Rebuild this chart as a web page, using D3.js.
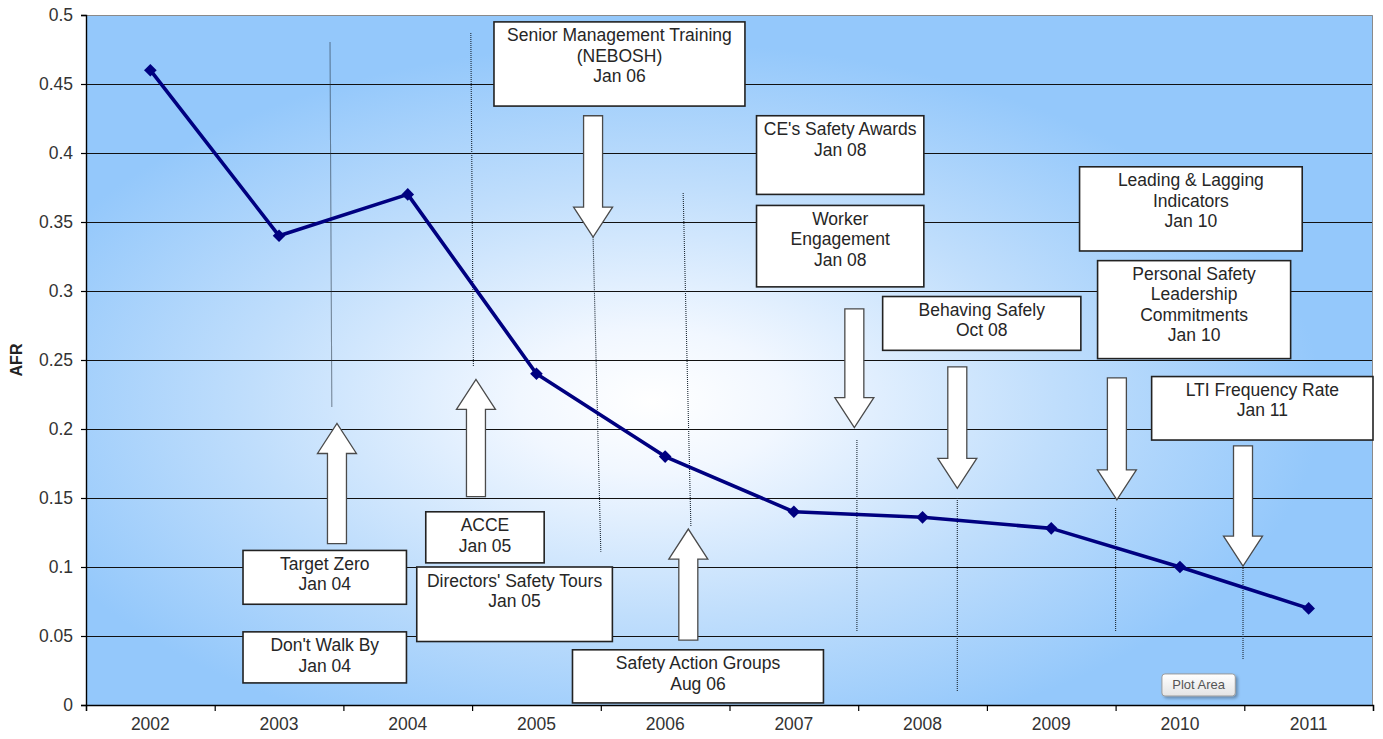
<!DOCTYPE html>
<html lang="en">
<head>
<meta charset="utf-8">
<title>AFR - safety initiatives</title>
<script src="https://d3js.org/d3.v7.min.js"></script>
<style>
  body { margin: 0; background: #fff; }
  #chart svg { display: block; font-family: "Liberation Sans", Arial, sans-serif; }
  .tick text { fill: #333; font-size: 17.5px; }
  .grid line { stroke: #111; stroke-width: 1; shape-rendering: crispEdges; }
  .leader { stroke: #1e2a36; stroke-width: 1.1; stroke-dasharray: 1 1; fill: none; }
  .note rect { fill: #fff; stroke: #222; stroke-width: 1.6; }
  .note text { fill: #262626; font-size: 17.5px; text-anchor: middle; }
  .arrow { fill: #fff; stroke: #4a4a4a; stroke-width: 1.3; }
</style>
</head>
<body>
<div id="chart"></div>
<script>
// --- data ---
var years = [2002, 2003, 2004, 2005, 2006, 2007, 2008, 2009, 2010, 2011];
var afr = [0.46, 0.34, 0.37, 0.24, 0.18, 0.14, 0.136, 0.128, 0.10, 0.07];
var yTicks = [0, 0.05, 0.1, 0.15, 0.2, 0.25, 0.3, 0.35, 0.4, 0.45, 0.5];
var yLabel = "AFR";

// callout boxes, placed in chart units (year, AFR)
var notes = [
  { lines: ["Senior Management Training", "(NEBOSH)", "Jan 06"], x0: 2004.67, x1: 2006.62, top: 0.495, bottom: 0.434 },
  { lines: ["CE's Safety Awards", "Jan 08"], x0: 2006.71, x1: 2008.01, top: 0.427, bottom: 0.370 },
  { lines: ["Worker", "Engagement", "Jan 08"], x0: 2006.71, x1: 2008.01, top: 0.362, bottom: 0.303 },
  { lines: ["Behaving Safely", "Oct 08"], x0: 2007.69, x1: 2009.23, top: 0.296, bottom: 0.257 },
  { lines: ["Leading & Lagging", "Indicators", "Jan 10"], x0: 2009.22, x1: 2010.95, top: 0.390, bottom: 0.329 },
  { lines: ["Personal Safety", "Leadership", "Commitments", "Jan 10"], x0: 2009.36, x1: 2010.86, top: 0.322, bottom: 0.251 },
  { lines: ["LTI Frequency Rate", "Jan 11"], x0: 2009.78, x1: 2011.5, top: 0.238, bottom: 0.192 },
  { lines: ["Target Zero", "Jan 04"], x0: 2002.72, x1: 2003.99, top: 0.112, bottom: 0.073 },
  { lines: ["Don't Walk By", "Jan 04"], x0: 2002.72, x1: 2003.99, top: 0.053, bottom: 0.016 },
  { lines: ["ACCE", "Jan 05"], x0: 2004.14, x1: 2005.06, top: 0.140, bottom: 0.103 },
  { lines: ["Directors' Safety Tours", "Jan 05"], x0: 2004.07, x1: 2005.59, top: 0.100, bottom: 0.046 },
  { lines: ["Safety Action Groups", "Aug 06"], x0: 2005.28, x1: 2007.23, top: 0.040, bottom: 0.0015 }
];

// block arrows: centre (year), tail and tip (AFR)
var arrows = [
  { x: 2003.45, tail: 0.117, tip: 0.204 },
  { x: 2004.53, tail: 0.151, tip: 0.236 },
  { x: 2005.44, tail: 0.427, tip: 0.339 },
  { x: 2006.18, tail: 0.047, tip: 0.1275 },
  { x: 2007.47, tail: 0.287, tip: 0.201 },
  { x: 2008.27, tail: 0.245, tip: 0.157 },
  { x: 2009.51, tail: 0.237, tip: 0.1486 },
  { x: 2010.49, tail: 0.1877, tip: 0.1007 }
];

// dotted drop lines
var leaders = [
  { x0: 2003.396, y0: 0.480, x1: 2003.41, y1: 0.216 },
  { x0: 2004.49, y0: 0.487, x1: 2004.51, y1: 0.245 },
  { x0: 2005.44, y0: 0.339, x1: 2005.50, y1: 0.111 },
  { x0: 2006.14, y0: 0.371, x1: 2006.20, y1: 0.129 },
  { x0: 2007.49, y0: 0.192, x1: 2007.49, y1: 0.053 },
  { x0: 2008.27, y0: 0.150, x1: 2008.27, y1: 0.0094 },
  { x0: 2009.50, y0: 0.1428, x1: 2009.50, y1: 0.053 },
  { x0: 2010.49, y0: 0.0993, x1: 2010.49, y1: 0.0326 }
];

// --- chart ---
var W = 1383, H = 739;
var margin = { top: 15, right: 10, bottom: 34, left: 86 };
var width = W - margin.left - margin.right;
var height = H - margin.top - margin.bottom;

var svg = d3.select("#chart").append("svg")
    .attr("width", W)
    .attr("height", H);

var defs = svg.append("defs");
var grad = defs.append("radialGradient")
    .attr("id", "bg")
    .attr("cx", 0.44).attr("cy", 0.56).attr("r", 0.52)
    .attr("fx", 0.44).attr("fy", 0.56);
grad.append("stop").attr("offset", "0%").attr("stop-color", "#ffffff");
grad.append("stop").attr("offset", "20%").attr("stop-color", "#f1f7ff");
grad.append("stop").attr("offset", "60%").attr("stop-color", "#c0defc");
grad.append("stop").attr("offset", "100%").attr("stop-color", "#94c8fb");

var shadow = defs.append("filter").attr("id", "shadow")
    .attr("x", "-20%").attr("y", "-30%").attr("width", "150%").attr("height", "180%");
shadow.append("feDropShadow").attr("dx", 2).attr("dy", 2).attr("stdDeviation", 1.5)
    .attr("flood-color", "#000").attr("flood-opacity", 0.3);

var tipGrad = defs.append("linearGradient").attr("id", "tipbg")
    .attr("x1", 0).attr("y1", 0).attr("x2", 0).attr("y2", 1);
tipGrad.append("stop").attr("offset", "0%").attr("stop-color", "#ffffff");
tipGrad.append("stop").attr("offset", "100%").attr("stop-color", "#e4e4e4");

var g = svg.append("g")
    .attr("transform", "translate(" + margin.left + "," + margin.top + ")");

var x = d3.scaleBand().domain(years).range([0, width]).paddingInner(0).paddingOuter(0);
var xs = d3.scaleLinear().domain([years[0] - 0.5, years[years.length - 1] + 0.5]).range([0, width]);
var y = d3.scaleLinear().domain([0, 0.5]).range([height, 0]);

// plot area
g.append("rect")
    .attr("width", width)
    .attr("height", height)
    .attr("fill", "url(#bg)");

// gridlines
g.append("g").attr("class", "grid")
  .selectAll("line")
  .data(yTicks.filter(function(d) { return d > 0 && d < 0.5; }))
  .enter().append("line")
    .attr("x1", 0).attr("x2", width)
    .attr("y1", function(d) { return Math.round(y(d)) + 0.5; })
    .attr("y2", function(d) { return Math.round(y(d)) + 0.5; });

// plot border (top / right)
g.append("path")
    .attr("d", "M0,0.5H" + (width - 0.5) + "V" + height)
    .attr("fill", "none")
    .attr("stroke", "#8a8a8a")
    .attr("stroke-width", 1);

// dotted lines
g.append("g").selectAll("line")
  .data(leaders)
  .enter().append("line")
    .attr("class", "leader")
    .attr("x1", function(d) { return xs(d.x0); })
    .attr("y1", function(d) { return y(d.y0); })
    .attr("x2", function(d) { return xs(d.x1); })
    .attr("y2", function(d) { return y(d.y1); });

// data line
var line = d3.line()
    .x(function(d, i) { return x(years[i]) + x.bandwidth() / 2; })
    .y(function(d) { return y(d); });

g.append("path")
    .datum(afr)
    .attr("d", line)
    .attr("fill", "none")
    .attr("stroke", "#000080")
    .attr("stroke-width", 3.6)
    .attr("stroke-linejoin", "round");

g.append("g").selectAll("path")
  .data(afr)
  .enter().append("path")
    .attr("d", d3.symbol(d3.symbolSquare, 80))
    .attr("fill", "#000080")
    .attr("transform", function(d, i) {
      return "translate(" + (x(years[i]) + x.bandwidth() / 2) + "," + y(d) + ") rotate(45)";
    });

// block arrows
var shaftW = 19, headW = 39, headL = 30;
function arrowPath(d) {
  var cx = xs(d.x), t0 = y(d.tail), t1 = y(d.tip);
  var dir = t1 > t0 ? 1 : -1;
  var hb = t1 - dir * headL;
  var s = shaftW / 2, h = headW / 2;
  return "M" + (cx - s) + "," + t0 +
         "L" + (cx + s) + "," + t0 +
         "L" + (cx + s) + "," + hb +
         "L" + (cx + h) + "," + hb +
         "L" + cx + "," + t1 +
         "L" + (cx - h) + "," + hb +
         "L" + (cx - s) + "," + hb + "Z";
}
g.append("g").selectAll("path")
  .data(arrows)
  .enter().append("path")
    .attr("class", "arrow")
    .attr("d", arrowPath);

// callout boxes
var note = g.append("g").selectAll(".note")
  .data(notes)
  .enter().append("g")
    .attr("class", "note");

note.append("rect")
    .attr("x", function(d) { return xs(d.x0); })
    .attr("y", function(d) { return y(d.top); })
    .attr("width", function(d) { return xs(d.x1) - xs(d.x0); })
    .attr("height", function(d) { return y(d.bottom) - y(d.top); });

note.append("text")
  .selectAll("tspan")
  .data(function(d) {
    return d.lines.map(function(t, i) {
      return { t: t, i: i, cx: (xs(d.x0) + xs(d.x1)) / 2, top: y(d.top) };
    });
  })
  .enter().append("tspan")
    .attr("x", function(d) { return d.cx; })
    .attr("y", function(d) { return d.top + 19.5 + d.i * 20.3; })
    .text(function(d) { return d.t; });

// axes
var yAxis = g.append("g")
    .call(d3.axisLeft(y).tickValues(yTicks).tickSize(5).tickPadding(8)
      .tickFormat(function(d) { return String(d); }));
yAxis.select(".domain").attr("stroke", "#000").attr("stroke-width", 1.4);
yAxis.selectAll(".tick line").attr("stroke", "#000").attr("stroke-width", 1.2);

var xTickAxis = g.append("g")
    .attr("transform", "translate(0," + height + ")")
    .call(d3.axisBottom(xs)
      .tickValues(d3.range(years.length + 1).map(function(i) { return years[0] - 0.5 + i; }))
      .tickSize(6).tickFormat(""));
xTickAxis.select(".domain").attr("stroke", "#000").attr("stroke-width", 1.4);
xTickAxis.selectAll(".tick line").attr("stroke", "#000").attr("stroke-width", 1.2);

var xAxis = g.append("g")
    .attr("transform", "translate(0," + height + ")")
    .call(d3.axisBottom(x).tickSize(0).tickPadding(13));
xAxis.select(".domain").remove();

// y title
svg.append("text")
    .attr("transform", "translate(22," + (margin.top + y(0.25)) + ") rotate(-90)")
    .attr("text-anchor", "middle")
    .style("font-size", "16px")
    .style("font-weight", "bold")
    .style("fill", "#222")
    .text(yLabel);

// "Plot Area" hover label
var tip = g.append("g")
    .attr("transform", "translate(" + xs(2009.86) + "," + y(0.0225) + ")");
tip.append("rect")
    .attr("width", xs(2010.43) - xs(2009.86))
    .attr("height", y(0.0065) - y(0.0225))
    .attr("rx", 3)
    .attr("fill", "url(#tipbg)")
    .attr("stroke", "#9a9a9a")
    .attr("filter", "url(#shadow)");
tip.append("text")
    .attr("x", (xs(2010.43) - xs(2009.86)) / 2)
    .attr("y", 15.5)
    .attr("text-anchor", "middle")
    .style("font-size", "13px")
    .style("fill", "#555")
    .text("Plot Area");
</script>
</body>
</html>
